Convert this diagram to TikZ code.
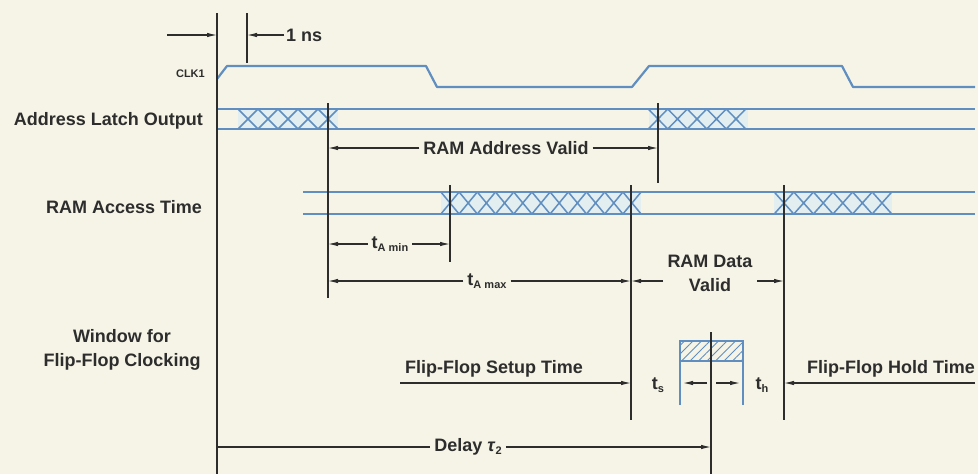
\documentclass[tikz,border=0pt]{standalone}
\usepackage{fontspec}
\setmainfont{Liberation Sans}
\usetikzlibrary{arrows.meta,patterns.meta}
\definecolor{bg}{RGB}{246,244,230}
\definecolor{sig}{RGB}{96,142,192}
\definecolor{band}{RGB}{226,238,240}
\definecolor{ink}{RGB}{45,45,45}
\newcommand{\subtxt}[1]{\raisebox{-0.35ex}{\fontsize{11}{11}\selectfont #1}}
\tikzset{
  lab/.style={font=\fontsize{18}{24}\selectfont\bfseries, text=ink, inner sep=0pt},
  glab/.style={lab, inner xsep=4pt},
  sigline/.style={draw=sig, line width=2.2pt, line join=round},
  xline/.style={draw=sig, line width=1.5pt},
  vline/.style={draw=ink, line width=1.1pt},
  dimarr/.style={draw=ink, line width=1.1pt, -{Latex[length=10pt,width=4.5pt]}},
  dimline/.style={draw=ink, line width=1.1pt},
}
\begin{document}
\begin{tikzpicture}[x=1pt,y=-1pt]
\fill[bg] (0,0) rectangle (978,474);
\useasboundingbox (0,0) rectangle (978,474);

% ---- X band fills
\fill[band] (238,109) rectangle (338,129);
\fill[band] (648.5,109) rectangle (747.5,129);
\fill[band] (441,192) rectangle (641,214);
\fill[band] (774.2,192) rectangle (891.8,214);

% ---- signal lines
\draw[sigline] (217,79) -- (227,66) -- (426,66) -- (437,87) -- (632,87) -- (649,66) -- (842,66) -- (853,87) -- (975,87);
\draw[sigline] (217,109) -- (975,109);
\draw[sigline] (217,129) -- (975,129);
\draw[sigline] (303,192) -- (975,192);
\draw[sigline] (303,214) -- (975,214);

% ---- X patterns
\foreach \c in {248,268,288,308,328}{
  \draw[xline] ({\c-10},109) -- ({\c+10},129) ({\c-10},129) -- ({\c+10},109);}
\foreach \c in {658,677.5,697,716.5,736}{
  \draw[xline] ({\c-9.75},109) -- ({\c+9.75},129) ({\c-9.75},129) -- ({\c+9.75},109);}
\foreach \i in {0,...,10}{
  \pgfmathsetmacro\c{450+18.2*\i}
  \draw[xline] ({\c-9.1},192) -- ({\c+9.1},214) ({\c-9.1},214) -- ({\c+9.1},192);}
\foreach \i in {0,...,5}{
  \pgfmathsetmacro\c{784+19.6*\i}
  \draw[xline] ({\c-9.8},192) -- ({\c+9.8},214) ({\c-9.8},214) -- ({\c+9.8},192);}

% ---- hatched window
\path[pattern={Lines[angle=45,distance=6pt,line width=0.9pt]}, pattern color=sig] (680,341) rectangle (743,361);
\draw[draw=sig, line width=1.4pt] (680,405) -- (680,341) -- (743,341) -- (743,405);
\draw[draw=sig, line width=1.4pt] (680,361) -- (743,361);

% ---- vertical reference lines
\coordinate (v0t) at (217,13);   \coordinate (v0b) at (217,474);
\coordinate (v1t) at (247,13);   \coordinate (v1b) at (247,63);
\coordinate (v2t) at (328,103);  \coordinate (v2b) at (328,298);
\coordinate (v3t) at (658,103);  \coordinate (v3b) at (658,183);
\coordinate (v4t) at (450,185);  \coordinate (v4b) at (450,262);
\coordinate (v5t) at (631,185);  \coordinate (v5b) at (631,420);
\coordinate (v6t) at (784,185);  \coordinate (v6b) at (784,420);
\coordinate (v7t) at (711,332);  \coordinate (v7b) at (711,474);
\foreach \v in {0,...,7}{\draw[vline] (v\v t) -- (v\v b);}

% ---- labels on the left
\node[lab, font=\fontsize{11}{13}\selectfont\bfseries, anchor=east] (clk) at (205,74) {CLK1};
\node[lab, anchor=east] (alo) at (203,121) {Address Latch Output};
\node[lab, anchor=east] (rat) at (202,207) {RAM Access Time};
\node[lab, align=center] (win) at (122,350) {Window for\\Flip-Flop Clocking};

% ---- 1 ns
\coordinate (nsL) at (167,35);
\node[glab, anchor=west, inner xsep=2pt] (ns) at (284,35) {1 ns};
\draw[dimarr] (nsL) -- (v0t |- nsL);
\draw[dimarr] (ns.west) -- (v1t |- ns.west);

% ---- RAM Address Valid
\node[glab] (rav) at (506,148) {RAM Address Valid};
\draw[dimarr] (rav.west) -- (v2t |- rav.west);
\draw[dimarr] (rav.east) -- (v3t |- rav.east);

% ---- t_A min / t_A max
\node[glab] (tmin) at (390,244) {t\subtxt{A min}};
\draw[dimarr] (tmin.west) -- (v2t |- tmin.west);
\draw[dimarr] (tmin.east) -- (v4t |- tmin.east);
\node[glab] (tmax) at (487,281) {t\subtxt{A max}};
\draw[dimarr] (tmax.west) -- (v2t |- tmax.west);
\draw[dimarr] (tmax.east) -- (v5t |- tmax.east);

% ---- RAM Data Valid
\node[lab, align=center] (rdv) at (710,273) {RAM Data\\Valid};
\coordinate (rdvL) at (663,281);
\coordinate (rdvR) at (757,281);
\draw[dimarr] (rdvL) -- (v5t |- rdvL);
\draw[dimarr] (rdvR) -- (v6t |- rdvR);

% ---- setup / hold
\node[lab] (fsu) at (494,369) {Flip-Flop Setup Time};
\coordinate (fsuL) at (400,383);
\draw[dimarr] (fsuL) -- (v5t |- fsuL);
\node[lab, anchor=east] (fho) at (975,369) {Flip-Flop Hold Time};
\coordinate (fhoR) at (975,383);
\draw[dimarr] (fhoR) -- (v6t |- fhoR);
\node[lab] (ts) at (658,385) {t\subtxt{s}};
\node[lab] (th) at (762,385) {t\subtxt{h}};
\coordinate (wl) at (707,383);
\coordinate (wr) at (716,383);
\draw[dimarr] (wl) -- (683,383);
\draw[dimarr] (wr) -- (740,383);

% ---- Delay
\node[glab] (dly) at (468,447) {Delay \textit{τ}\subtxt{2}};
\draw[dimline] (v0t |- dly.west) -- (dly.west);
\draw[dimarr] (dly.east) -- (v7t |- dly.east);
\end{tikzpicture}
\end{document}
